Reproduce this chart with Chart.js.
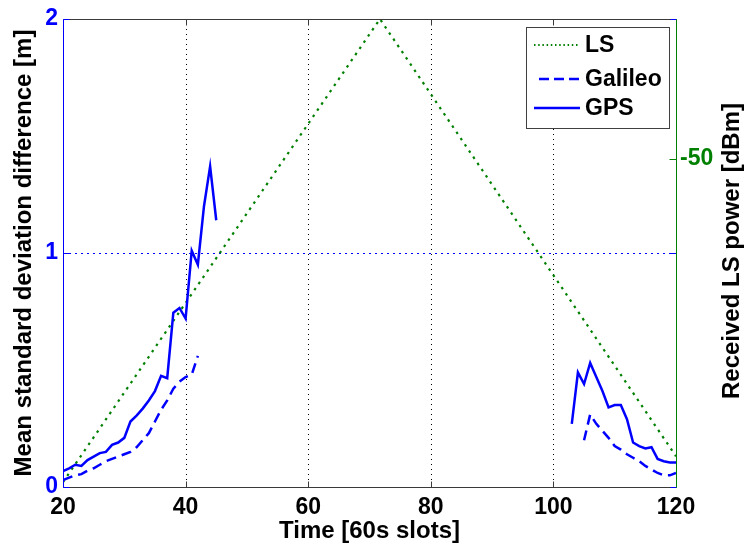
<!DOCTYPE html>
<html><head><meta charset="utf-8">
<script src="https://cdn.jsdelivr.net/npm/chart.js@4.4.0/dist/chart.umd.min.js"></script>
<style>html,body{margin:0;padding:0;background:#fff;}#wrap{width:745px;height:548px;}</style>
</head><body><div id="wrap"><canvas id="c" width="745" height="548"></canvas></div>
<script>
// ---- data ----
const xTicks = [20, 40, 60, 80, 100, 120];
const leftTicks = [0, 1, 2];
const rightTicks = [-50];

const lsTime = [20, 71.7, 120];
const lsPower = [-96.3, -30, -92.6];

const gpsTimeA = [20,21,22,23,24,25,26,27,28,29,30,31,32,33,34,35,36,37,38,39,40,41,42,43,44,45];
const gpsA = [0.068,0.08,0.095,0.09,0.115,0.13,0.145,0.15,0.18,0.19,0.21,0.28,0.305,0.335,0.37,0.41,0.475,0.465,0.745,0.765,0.72,1.01,0.95,1.2,1.37,1.14];
const gpsTimeB = [103,104,105,106,107,108,109,110,111,112,113,114,115,116,117,118,119,120];
const gpsB = [0.27,0.49,0.44,0.53,0.47,0.41,0.34,0.35,0.35,0.29,0.19,0.175,0.165,0.17,0.12,0.11,0.105,0.105];

const galTimeA = [20,21,22,23,24,25,26,27,28,29,30,31,32,33,34,35,36,37,38,39,40,41,42];
const galA = [0.03,0.04,0.05,0.055,0.07,0.08,0.095,0.11,0.12,0.13,0.14,0.15,0.17,0.2,0.23,0.28,0.33,0.37,0.42,0.45,0.47,0.48,0.56];
const galTimeB = [105,106,107,108,109,110,111,112,113,114,115,116,117,118,119,120];
const galB = [0.2,0.31,0.27,0.24,0.21,0.175,0.16,0.14,0.125,0.11,0.09,0.075,0.06,0.05,0.05,0.06];

// ---- helpers ----
function pts(xs, ys){ return xs.map((x,i)=>({x:x, y:ys[i]})); }
function joinSeg(a, b){ return a.concat([{x:(a[a.length-1].x+b[0].x)/2, y:null}], b); }

const FONT = '"Liberation Sans", Arial, sans-serif';
const BLUE = '#0000ff';
const GREEN = '#008000';

const frame = {
  id: 'frame',
  beforeDatasetsDraw(chart){
    const {ctx, chartArea:a, scales} = chart;
    const x = scales.x, y = scales.y;
    ctx.save();
    ctx.lineWidth = 1;
    ctx.setLineDash([1, 4]);
    ctx.strokeStyle = '#000';
    xTicks.slice(1, -1).forEach(v => {
      const px = Math.round(x.getPixelForValue(v)) + 0.5;
      ctx.beginPath(); ctx.moveTo(px, a.top); ctx.lineTo(px, a.bottom); ctx.stroke();
    });
    ctx.strokeStyle = BLUE;
    ctx.setLineDash([2, 4]);
    leftTicks.slice(1, -1).forEach(v => {
      const py = Math.round(y.getPixelForValue(v)) + 0.5;
      ctx.beginPath(); ctx.moveTo(a.left, py); ctx.lineTo(a.right, py); ctx.stroke();
    });
    ctx.restore();
  },
  afterDatasetsDraw(chart){
    const {ctx, chartArea:a, scales} = chart;
    const x = scales.x, y = scales.y, yR = scales.yR;
    const L = a.left + 0.5, R = a.right + 0.5, T = a.top + 0.5, B = a.bottom + 0.5;
    ctx.save();
    ctx.setLineDash([]);
    ctx.lineWidth = 1;
    ctx.strokeStyle = '#3a3a3a';
    ctx.beginPath(); ctx.moveTo(L, T); ctx.lineTo(R, T); ctx.stroke();
    ctx.beginPath(); ctx.moveTo(L, B); ctx.lineTo(R, B); ctx.stroke();
    xTicks.forEach(v => {
      const px = Math.round(x.getPixelForValue(v)) + 0.5;
      ctx.beginPath(); ctx.moveTo(px, B); ctx.lineTo(px, B - 6); ctx.stroke();
      ctx.beginPath(); ctx.moveTo(px, T); ctx.lineTo(px, T + 6); ctx.stroke();
    });
    ctx.strokeStyle = BLUE;
    ctx.beginPath(); ctx.moveTo(L, T); ctx.lineTo(L, B); ctx.stroke();
    leftTicks.forEach(v => {
      const py = Math.round(y.getPixelForValue(v)) + 0.5;
      ctx.beginPath(); ctx.moveTo(L, py); ctx.lineTo(L + 6, py); ctx.stroke();
      ctx.beginPath(); ctx.moveTo(R, py); ctx.lineTo(R - 6, py); ctx.stroke();
    });
    ctx.strokeStyle = GREEN;
    ctx.beginPath(); ctx.moveTo(R, T); ctx.lineTo(R, B); ctx.stroke();
    rightTicks.forEach(v => {
      const py = Math.round(yR.getPixelForValue(v)) + 0.5;
      ctx.beginPath(); ctx.moveTo(R, py); ctx.lineTo(R - 7, py); ctx.stroke();
    });
    ctx.restore();
  },
  afterDraw(chart){
    const ctx = chart.ctx;
    ctx.save();
    ctx.font = 'bold 24px ' + FONT;
    ctx.fillStyle = '#000';
    ctx.textAlign = 'center';
    ctx.textBaseline = 'middle';
    ctx.translate(732, 251);
    ctx.rotate(-Math.PI / 2);
    ctx.fillText('Received LS power [dBm]', 0, 0);
    ctx.restore();

    ctx.save();
    const bx = 526.5, by = 27.5, bw = 143, bh = 101;
    ctx.fillStyle = '#fff';
    ctx.fillRect(bx, by, bw, bh);
    ctx.strokeStyle = '#404040';
    ctx.lineWidth = 1;
    ctx.strokeRect(bx, by, bw, bh);
    const ds = chart.data.datasets;
    const items = [
      {d: ds[2], y: 45, x0: 534, dash: [1.5, 2.7]},
      {d: ds[1], y: 79, x0: 539, dash: [10, 5]},
      {d: ds[0], y: 108, x0: 534, dash: []}
    ];
    items.forEach(it => {
      ctx.strokeStyle = it.d.borderColor;
      ctx.lineWidth = it.d.borderWidth;
      ctx.setLineDash(it.dash);
      ctx.beginPath(); ctx.moveTo(it.x0, it.y); ctx.lineTo(580, it.y); ctx.stroke();
      ctx.setLineDash([]);
      ctx.fillStyle = '#000';
      ctx.font = 'bold 23px ' + FONT;
      ctx.textAlign = 'left';
      ctx.textBaseline = 'middle';
      ctx.fillText(it.d.label, 585, it.y + 1);
    });
    ctx.restore();
  }
};

new Chart(document.getElementById('c'), {
  type: 'line',
  data: {
    datasets: [
      { label: 'GPS', data: joinSeg(pts(gpsTimeA, gpsA), pts(gpsTimeB, gpsB)), yAxisID: 'y',
        borderColor: BLUE, borderWidth: 2.5, pointRadius: 0, spanGaps: false, tension: 0, order: 1 },
      { label: 'Galileo', data: joinSeg(pts(galTimeA, galA), pts(galTimeB, galB)), yAxisID: 'y',
        borderColor: BLUE, borderWidth: 2.5, borderDash: [10, 6], pointRadius: 0, spanGaps: false, tension: 0, order: 2 },
      { label: 'LS', data: pts(lsTime, lsPower), yAxisID: 'yR',
        borderColor: GREEN, borderWidth: 2.2, borderDash: [2.5, 5], pointRadius: 0, tension: 0, order: 3 }
    ]
  },
  options: {
    responsive: false,
    animation: false,
    events: [],
    layout: { padding: { top: 19, left: 0, right: 0, bottom: 0 } },
    plugins: { legend: { display: false }, tooltip: { enabled: false } },
    scales: {
      x: {
        type: 'linear', min: 20, max: 120, position: 'bottom',
        afterBuildTicks: s => { s.ticks = xTicks.map(v => ({value: v})); },
        afterFit: s => { s.height = 61; },
        grid: { display: false, drawTicks: false },
        border: { display: false },
        ticks: { color: '#000', padding: 7, maxRotation: 0, font: { family: FONT, size: 23, weight: 'bold' } },
        title: { display: true, text: 'Time [60s slots]', color: '#000', padding: { top: 0, bottom: 2 },
                 font: { family: FONT, size: 24, weight: 'bold' } }
      },
      y: {
        type: 'linear', min: 0, max: 2, position: 'left',
        afterBuildTicks: s => { s.ticks = leftTicks.map(v => ({value: v})); },
        afterFit: s => { s.width = 63; },
        grid: { display: false, drawTicks: false },
        border: { display: false },
        ticks: { color: BLUE, padding: 5, font: { family: FONT, size: 23, weight: 'bold' } },
        title: { display: true, text: 'Mean standard deviation difference [m]', color: '#000', padding: { top: 10, bottom: 0 },
                 font: { family: FONT, size: 24, weight: 'bold' } }
      },
      yR: {
        type: 'linear', min: -97, max: -30, position: 'right',
        afterBuildTicks: s => { s.ticks = rightTicks.map(v => ({value: v})); },
        afterFit: s => { s.width = 69; },
        grid: { display: false, drawTicks: false },
        border: { display: false },
        ticks: { color: GREEN, padding: 4, font: { family: FONT, size: 23, weight: 'bold' } }
      }
    }
  },
  plugins: [frame]
});
</script>
</body></html>
